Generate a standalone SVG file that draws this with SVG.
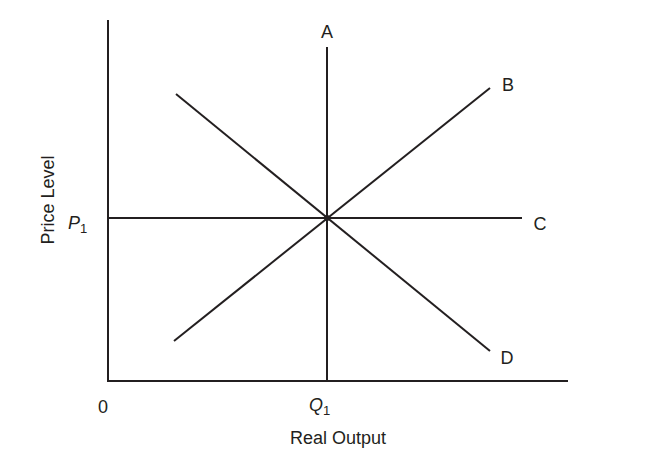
<svg xmlns="http://www.w3.org/2000/svg" width="653" height="473" viewBox="0 0 653 473">
<style>
.l{stroke:#231f20;stroke-width:2;fill:none}
.t{font-family:"Liberation Sans",Arial,sans-serif;font-size:18px;fill:#231f20}
</style>
<rect width="653" height="473" fill="#fff"/>
<g id="axes">
<path class="l" d="M108,20 V381 H568"/>
</g>
<g id="connectors">
<path class="l" d="M327,47 V381"/>
<path class="l" d="M174,341 L490,88"/>
<path class="l" d="M108,218 H522"/>
<path class="l" d="M176,94 L490,351"/>
<circle cx="327" cy="218" r="3" fill="#231f20"/>
</g>
<g id="labels">
<text class="t" x="327" y="38" text-anchor="middle">A</text>
<text class="t" x="508" y="91" text-anchor="middle">B</text>
<text class="t" x="540" y="230" text-anchor="middle">C</text>
<text class="t" x="507" y="364" text-anchor="middle">D</text>
<text class="t" x="68" y="229" font-style="italic">P<tspan font-size="13" font-style="normal" dy="4">1</tspan></text>
<text class="t" x="309" y="411" font-style="italic">Q<tspan font-size="13" font-style="normal" dy="4">1</tspan></text>
<text class="t" x="103" y="413" text-anchor="middle">0</text>
<text class="t" x="338" y="444" text-anchor="middle">Real Output</text>
<text class="t" transform="translate(54,200) rotate(-90)" text-anchor="middle">Price Level</text>
</g>
</svg>
